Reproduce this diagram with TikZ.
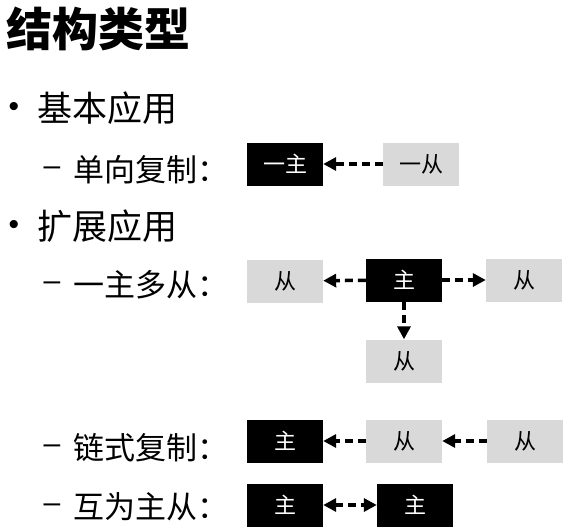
\documentclass[tikz,border=0pt]{standalone}
\usepackage{fontspec}
\setmainfont{Noto Sans CJK SC}
\newfontfamily\markfont{Liberation Sans}
\usepackage{tikz}
\usetikzlibrary{arrows.meta}
\definecolor{slavegray}{HTML}{D9D9D9}
\tikzstyle{master} = [
  fill=black,
  text=white,
  rectangle,
  minimum width=76pt,
  minimum height=43pt,
  inner sep=0pt,
  font=\fontsize{22}{24}\selectfont,
]
\tikzstyle{slave} = [
  fill=slavegray,
  text=black,
  rectangle,
  minimum width=76pt,
  minimum height=43pt,
  inner sep=0pt,
  font=\fontsize{22}{24}\selectfont,
]
\tikzstyle{repl} = [
  line width=3.5pt,
  dash pattern=on 8pt off 5pt,
  -{Triangle[length=13pt,width=13pt]},
]
\tikzstyle{heading} = [
  anchor=west,
  inner sep=0pt,
  font=\fontsize{46}{50}\selectfont\bfseries,
]
\tikzstyle{itemone} = [
  anchor=west,
  inner sep=0pt,
  font=\fontsize{35}{38}\selectfont,
]
\tikzstyle{itemtwo} = [
  anchor=west,
  inner sep=0pt,
  font=\fontsize{31}{34}\selectfont,
]
\tikzstyle{itemmark} = [
  anchor=center,
  inner sep=0pt,
  font=\fontsize{30}{32}\selectfont\markfont,
]

\begin{document}
\begin{tikzpicture}[
    x=1pt,
    y=-1pt,
  ]
  \useasboundingbox (0,0) rectangle (573,531);
  % headings
  \node[heading] (title) at (6,29) {结构类型};
  \node[itemmark] (bulbasic) at (14,109) {•};
  \node[itemone] (basic) at (37,108) {基本应用};
  \node[itemmark] (dashone) at (52,171) {–};
  \node[itemtwo] (oneway) at (73,170) {单向复制：};
  \node[itemmark] (bulext) at (14,227) {•};
  \node[itemone] (ext) at (37,226) {扩展应用};
  \node[itemmark] (dashtwo) at (52,286) {–};
  \node[itemtwo] (fanout) at (73,285) {一主多从：};
  \node[itemmark] (dashthree) at (52,449) {–};
  \node[itemtwo] (chain) at (73,448) {链式复制：};
  \node[itemmark] (dashfour) at (52,508) {–};
  \node[itemtwo] (dual) at (73,507) {互为主从：};
  % one way
  \node[master] (onem) at (285,164) {一主};
  \node[slave] (ones) at (421,164) {一从};
  \draw[repl] (ones) -- (onem);
  % one master, many slaves
  \node[master] (fanm) at (404,280) {主};
  \node[slave] (fanl) at (285,281) {从};
  \node[slave] (fanr) at (524,280) {从};
  \node[slave] (fanb) at (404,361) {从};
  \draw[repl] (fanm) -- (fanl);
  \draw[repl] (fanm) -- (fanr);
  \draw[repl] (fanm) -- (fanb);
  % chain
  \node[master] (chm) at (285,441) {主};
  \node[slave] (chs) at (404,441) {从};
  \node[slave] (chss) at (525,441) {从};
  \draw[repl] (chs) -- (chm);
  \draw[repl] (chss) -- (chs);
  % master-master
  \node[master] (mma) at (285,505) {主};
  \node[master] (mmb) at (415,505) {主};
  \draw[repl, {Triangle[length=13pt,width=13pt]}-{Triangle[length=13pt,width=13pt]}] (mma) -- (mmb);
\end{tikzpicture}
\end{document}
